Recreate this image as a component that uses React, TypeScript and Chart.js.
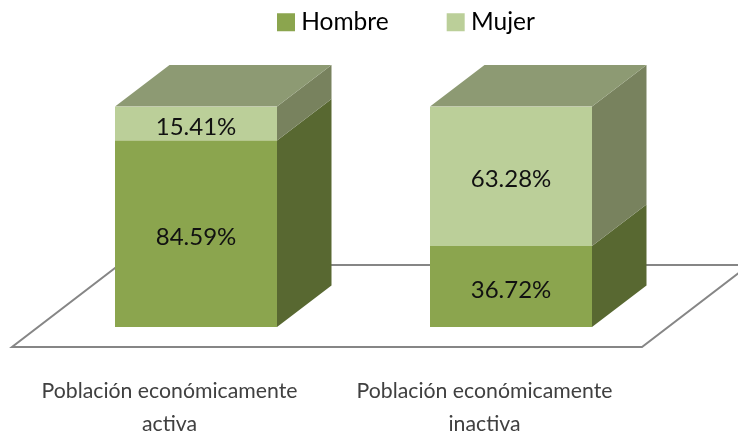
import { useEffect, useRef } from "react";
import { Chart, registerables } from "chart.js";

Chart.register(...registerables);

const categories = [
  ["Población económicamente", "activa"],
  ["Población económicamente", "inactiva"],
];
const hombre = [84.59, 36.72];
const mujer = [15.41, 63.28];

const FONT = "Lato";
const DEPTH_X = 54.5;
const DEPTH_Y = 41.5;

const faceColors = [
  { front: "#8ba54e", side: "#586831" },
  { front: "#bbcf99", side: "#78825e" },
];
const topColor = "#8d9a73";

function poly(ctx: CanvasRenderingContext2D, pts: number[][], fill?: string) {
  ctx.beginPath();
  pts.forEach(([x, y], i) => (i ? ctx.lineTo(x, y) : ctx.moveTo(x, y)));
  ctx.closePath();
  if (fill) {
    ctx.fillStyle = fill;
    ctx.fill();
  }
}

const box3d = {
  id: "box3d",
  beforeDraw(chart: any) {
    const lg = chart.legend;
    if (lg) {
      lg.left = 283 - lg.options.labels.padding;
      lg.right = lg.left + 400;
      lg.top = 10 - lg.options.labels.padding;
    }
  },
  beforeDatasetsDraw(chart: any) {
    const { ctx, chartArea } = chart;
    const floorY = chartArea.bottom + 20;
    const backY = chartArea.bottom - 62;
    const fl = chartArea.left - 26.5;
    const fr = chartArea.right - 26.5;
    ctx.save();
    poly(ctx, [[fl, floorY], [fr, floorY], [fr + 107, backY], [fl + 107, backY]]);
    ctx.strokeStyle = "#868686";
    ctx.lineWidth = 2;
    ctx.stroke();
    chart.data.datasets.forEach((_: any, d: number) => {
      chart.getDatasetMeta(d).data.forEach((bar: any) => {
        const r = bar.x + bar.width / 2;
        const { y, base } = bar;
        poly(ctx, [[r, y], [r + DEPTH_X, y - DEPTH_Y], [r + DEPTH_X, base - DEPTH_Y], [r, base]], faceColors[d].side);
        if (d === chart.data.datasets.length - 1) {
          const l = bar.x - bar.width / 2;
          poly(ctx, [[l, y], [l + DEPTH_X, y - DEPTH_Y], [r + DEPTH_X, y - DEPTH_Y], [r, y]], topColor);
        }
      });
    });
    ctx.restore();
  },
  afterDatasetsDraw(chart: any) {
    const { ctx } = chart;
    ctx.save();
    ctx.fillStyle = "#111";
    ctx.font = `24px ${FONT}`;
    ctx.textAlign = "center";
    ctx.textBaseline = "middle";
    chart.data.datasets.forEach((ds: any, d: number) => {
      chart.getDatasetMeta(d).data.forEach((bar: any, i: number) => {
        ctx.fillText(`${ds.data[i].toFixed(2)}%`, bar.x, (bar.y + bar.base) / 2 + 3.5);
      });
    });
    ctx.restore();
  },
};

export default function App() {
  const ref = useRef<HTMLCanvasElement>(null);
  useEffect(() => {
    document.body.style.margin = "0";
    const chart = new Chart(ref.current!, {
      type: "bar",
      data: {
        labels: categories,
        datasets: [
          { label: "Hombre", data: hombre, backgroundColor: faceColors[0].front, borderWidth: 0 },
          { label: "Mujer", data: mujer, backgroundColor: faceColors[1].front, borderWidth: 0 },
        ],
      },
      options: {
        animation: false,
        responsive: false,
        layout: { padding: { left: 38.5, right: 69.5, top: 7.9, bottom: 0 } },
        datasets: { bar: { barPercentage: 162 / 315, categoryPercentage: 1 } },
        scales: {
          x: {
            stacked: true,
            grid: { display: false },
            border: { display: false },
            afterFit: (s: any) => { s.height = 109; },
            ticks: {
              maxRotation: 0,
              autoSkip: false,
              padding: 40,
              labelOffset: -26.5,
              color: "#404040",
              font: { family: FONT, size: 21.25, lineHeight: 33 / 21.25 },
            },
          },
          y: { stacked: true, display: false, min: 0, max: 100 },
        },
        plugins: {
          tooltip: { enabled: false },
          legend: {
            position: "top",
            align: "start",
            labels: {
              boxWidth: 6,
              boxHeight: 6,
              padding: 64,
              color: "#000",
              font: { family: FONT, size: 24.5 },
              generateLabels: (c: any) =>
                c.data.datasets.map((ds: any, i: number) => ({
                  text: ds.label,
                  datasetIndex: i,
                  fillStyle: ds.backgroundColor,
                  strokeStyle: ds.backgroundColor,
                  lineWidth: 12,
                  fontColor: "#000",
                })),
            },
          },
        },
      },
      plugins: [box3d],
    } as any);
    return () => chart.destroy();
  }, []);
  return <canvas ref={ref} width={738} height={436} style={{ display: "block" }} />;
}
